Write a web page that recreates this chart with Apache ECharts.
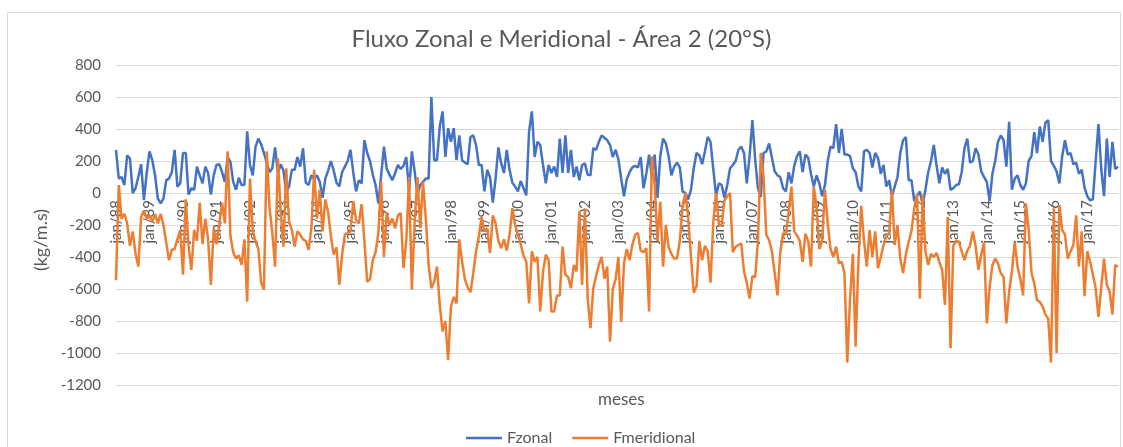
<!DOCTYPE html>
<html style="height: 100%">
<head>
    <meta charset="utf-8">
    <title>Fluxo Zonal e Meridional - Área 2 (20°S)</title>
</head>
<body style="height: 100%; margin: 0; background: #fff">
    <div id="container" style="width: 1123px; height: 447px"></div>
    <script type="text/javascript" src="https://cdn.jsdelivr.net/npm/echarts@6/dist/echarts.min.js"></script>
    <script type="text/javascript">
        // meses em português, anos 1988-2017
        var meses = ['jan', 'fev', 'mar', 'abr', 'mai', 'jun', 'jul', 'ago', 'set', 'out', 'nov', 'dez'];
        var anos = ['88', '89', '90', '91', '92', '93', '94', '95', '96', '97', '98', '99',
            '00', '01', '02', '03', '04', '05', '06', '07', '08', '09', '10', '11', '12', '13', '14', '15', '16', '17'];

        var yTicks = [-1200, -1000, -800, -600, -400, -200, 0, 200, 400, 600, 800];

        // Fzonal (kg/m.s), jan/88 .. dez/17
        var fzonal = [
            270, 90, 100, 50, 235, 215, 0, 30, 100, 180, -45, 125,
            260, 205, 110, -35, -65, -35, 80, 90, 130, 270, 40, 60,
            250, 250, -10, 30, 20, 165, 110, 60, 165, 125, -10, 110,
            175, 180, 130, 70, 225, 195, 70, 20, 95, 50, 50, 385,
            175, 110, 290, 340, 305, 250, 190, 130, 155, 285, 125, 180,
            140, 5, 40, 145, 145, 225, 165, 280, 65, 50, 110, 90,
            110, 70, -30, 90, 140, 200, 140, 65, 40, 130, 165, 200,
            270, 130, 10, 80, 60, 330, 250, 200, 115, 50, -65, 110,
            290, 150, 115, 80, 125, 175, 150, 170, 225, 10, 260, 135,
            -10, 50, 70, 90, 90, 600, 205, 205, 415, 510, 225, 405,
            320, 405, 205, 360, 205, 190, 180, 350, 360, 300, 175, 175,
            10, 145, 100, -60, 90, 285, 185, 125, 270, 145, 65, 40,
            10, 75, 30, -15, 385, 510, 225, 320, 300, 175, 60, 175,
            125, 165, 100, 340, 125, 360, 125, 270, 100, 165, 80, 175,
            185, 115, 110, 280, 270, 320, 360, 345, 330, 300, 225, 270,
            210, 90, -20, 85, 130, 160, 170, 160, 225, 30, 120, 240,
            100, 240, -30, 230, 340, 310, 230, 110, 165, 190, 160, 10,
            0, -40, 20, 155, 250, 235, 180, 260, 350, 320, 150, -20,
            60, 50, -30, 50, 155, 175, 200, 270, 290, 250, 60, 230,
            455, 210, 30, -25, 250, 260, 310, 220, 135, 110, 100, 30,
            10, 130, 60, 170, 230, 260, 130, 240, 220, 120, 40, 110,
            60, -20, 50, 200, 290, 280, 430, 250, 400, 240, 240, 230,
            155, 130, 40, 10, 260, 270, 250, 160, 250, 220, 120, 175,
            40, 80, -20, 40, 100, 250, 330, 350, 80, 80, -50, -20,
            10, -70, 20, 130, 200, 300, 170, 60, 160, 120, 150, 20,
            30, 50, 55, 130, 280, 340, 190, 200, 280, 240, 135, 100,
            70, -50, 120, 200, 320, 360, 330, 165, 445, 20, 90, 110,
            50, 20, 60, 200, 230, 380, 250, 415, 320, 440, 455, 200,
            170, 135, 60, 230, 330, 240, 250, 180, 190, 120, 145, 35,
            -20, -45, -40, 200, 430, 150, -20, 340, 100, 320, 150, 165
        ];

        // Fmeridional (kg/m.s), jan/88 .. dez/17
        var fmeridional = [
            -545, 50, -160, -130, -190, -330, -240, -380, -460, -150, -110, -160,
            -140, -180, -130, -190, -130, -200, -310, -420, -355, -350, -290, -230,
            -510, -40, -330, -480, -230, -300, -60, -320, -160, -290, -575, -220,
            -320, -200, -60, -190, 260, -270, -370, -410, -390, -450, -290, -680,
            90, -240, -300, -350, -560, -605, 260, -90, -250, -460, 215, -115,
            -335, 155, -180, -230, -335, -240, -260, -290, -300, -355, -220, 145,
            -160, 20, -240, -40, -120, -270, -385, -340, -575, -385, -260, -250,
            -240, -50, -170, -190, -70, -300, -555, -540, -420, -370, -250, 70,
            -400, -120, -200, -160, -220, -140, -125, -470, -300, 100, -605, -180,
            100, -220, 70, -160, -450, -595, -555, -460, -700, -865, -800, -1045,
            -710, -650, -690, -290, -430, -540, -590, -620, -500, -365, -270, -150,
            -240, -220, -375, -140, -190, -300, -345, -290, -360, -260, -95, -200,
            -260, -320, -390, -430, -690, -365, -430, -400, -740, -490, -385, -420,
            -740, -740, -640, -640, -335, -510, -525, -595, -450, -490, -115, -575,
            -95, -660, -845, -595, -520, -450, -400, -535, -460, -930, -600, -540,
            -400, -805, -440, -350, -420, -325, -260, -250, -360, -370, -345, -740,
            230, 50, -300, -55, -460, -200, -340, -380, -410, -410, -300, -80,
            0, -150, -400, -625, -580, -300, -420, -330, -365, -560, -180, 0,
            -200, -200, -45, -20, 0, -370, -335, -325, -315, -490, -560, -660,
            -520, -525, -300, 250, 100, -260, -295, -365, -500, -640, -370, -250,
            -260, -120, 40, -240, -265, -300, -430, -255, -300, -460, 40, -85,
            -350, -300, 20, -190, -350, -400, -335, -440, -430, -500, -1060, -660,
            -380, -960, -420, -80, -300, -460, -230, -400, -240, -470, -400, -325,
            -270, -250, 20, -325, -200, -410, -500, -385, -305, -240, -95, -5,
            -660, -10, -365, -450, -380, -400, -375, -430, -480, -700, -150, -970,
            -330, -300, -305, -365, -420, -360, -330, -240, -335, -480, -385, -310,
            -815, -590, -450, -410, -440, -500, -525, -815, -615, -490, -305, -460,
            -535, -640, -65, -230, -500, -565, -670, -680, -710, -760, -785, -1060,
            -95, -1000, -75, -230, -260, -410, -365, -325, -140, -460, -240, -645,
            -365, -430, -510, -595, -775, -590, -410, -575, -615, -760, -450, -460
        ];

        var categorias = [];
        anos.forEach(function (a) {
            meses.forEach(function (m) {
                categorias.push(m + '/' + a);
            });
        });

        var fonte = 'Lato, "Open Sans", sans-serif';
        var cinza = '#595959';

        // área do gráfico
        var gTop = 65, gBottom = 62;
        var gHeight = 447 - gTop - gBottom;
        var yMin = yTicks[0], yMax = yTicks[yTicks.length - 1];
        // eixo das categorias passa pelo zero, como no Excel
        var offsetZero = -gHeight * (0 - yMin) / (yMax - yMin);

        var dom = document.getElementById('container');
        var myChart = echarts.init(dom);

        var option = {
            animation: false,
            textStyle: { fontFamily: fonte },
            title: [{
                text: 'Fluxo Zonal e Meridional - Área 2 (20°S)',
                left: 'center',
                top: 22,
                textStyle: { fontFamily: fonte, fontSize: 24, fontWeight: 'normal', color: cinza }
            }, {
                text: 'meses',
                left: 593,
                top: 386,
                textStyle: { fontFamily: fonte, fontSize: 17, fontWeight: 'normal', color: cinza }
            }],
            legend: {
                data: ['Fzonal', 'Fmeridional'],
                left: 461,
                top: 425,
                icon: 'rect',
                itemWidth: 36,
                itemHeight: 2.5,
                itemGap: 20,
                textStyle: { fontFamily: fonte, fontSize: 16, color: cinza }
            },
            grid: {
                left: 116,
                right: 5,
                top: gTop,
                bottom: gBottom,
                outerBoundsMode: 'none'
            },
            graphic: [{
                type: 'rect',
                silent: true,
                shape: { x: 7.5, y: 12.5, width: 1113, height: 440 },
                style: { fill: 'none', stroke: '#d9d9d9', lineWidth: 1 }
            }],
            xAxis: {
                type: 'category',
                data: categorias,
                boundaryGap: false,
                position: 'bottom',
                offset: offsetZero,
                axisLine: { onZero: false, lineStyle: { color: '#d9d9d9' } },
                axisTick: { show: false },
                axisLabel: {
                    interval: 11,
                    rotate: 90,
                    margin: 7,
                    fontSize: 15,
                    color: cinza,
                    fontFamily: fonte
                },
                splitLine: { show: false }
            },
            yAxis: {
                type: 'value',
                min: yMin,
                max: yMax,
                interval: 200,
                name: '(kg/m.s)',
                nameLocation: 'middle',
                nameGap: 54,
                nameTextStyle: { fontFamily: fonte, fontSize: 18, color: cinza, padding: [0, 30, 0, 0] },
                axisLine: { show: false },
                axisTick: { show: false },
                axisLabel: {
                    fontSize: 15, color: cinza, margin: 15, fontFamily: fonte,
                    formatter: function (v) { return String(v); }
                },
                splitLine: { lineStyle: { color: '#d9d9d9', width: 1 } }
            },
            series: [{
                name: 'Fzonal',
                type: 'line',
                data: fzonal,
                symbol: 'none',
                lineStyle: { color: '#4472c4', width: 2.5 },
                itemStyle: { color: '#4472c4' }
            }, {
                name: 'Fmeridional',
                type: 'line',
                data: fmeridional,
                symbol: 'none',
                lineStyle: { color: '#ed7d31', width: 2.5 },
                itemStyle: { color: '#ed7d31' }
            }]
        };

        myChart.setOption(option);
    </script>
</body>
</html>
